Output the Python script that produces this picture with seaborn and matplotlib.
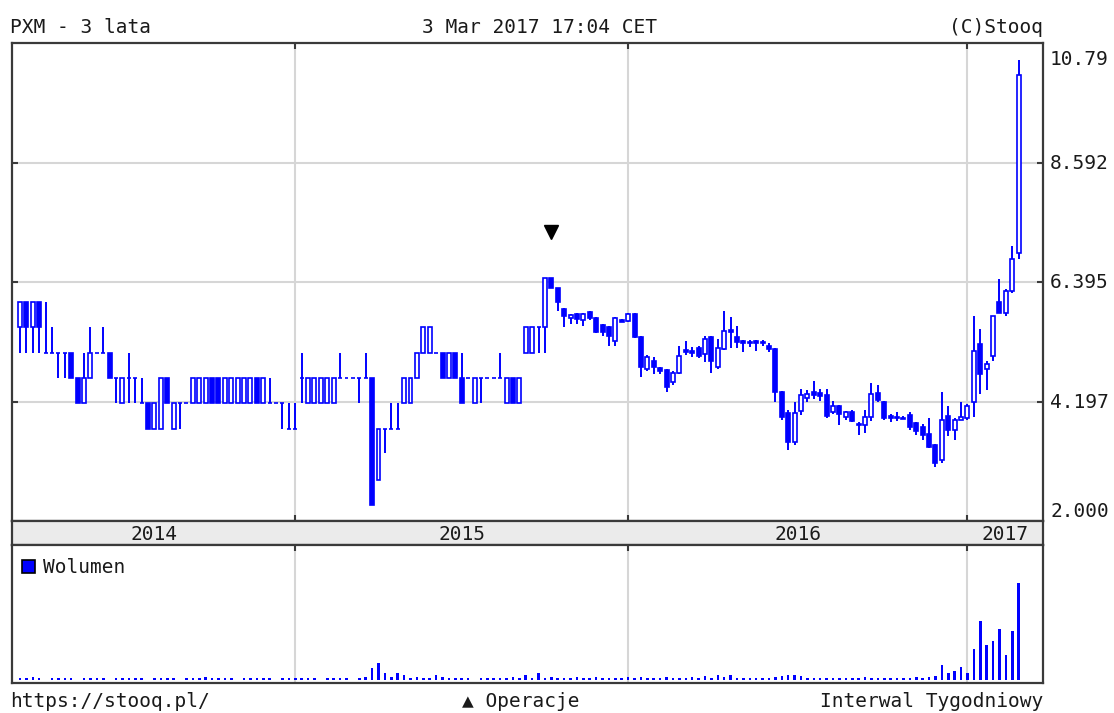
import numpy as np
import pandas as pd
import matplotlib
matplotlib.use("Agg")
import matplotlib.pyplot as plt
from matplotlib.patches import Rectangle
from matplotlib import transforms
import seaborn as sns

# weekly candles, Mar 2014 .. 3 Mar 2017 (one row per traded week)
open_ = [
    # 2014
    5.56, 6.03, 5.56, 6.03, 5.09, 5.09, 5.09, 5.09, 5.09, 4.63,
    4.17, 4.63, 5.09, 5.09, 5.09, 4.63, 4.17, 4.63, 4.63, 4.17,
    4.17, 3.70, 3.70, 4.63, 3.70, 4.17, 4.17, 4.17, 4.17, 4.17,
    4.63, 4.63, 4.17, 4.17, 4.17, 4.17, 4.17, 4.63, 4.17, 4.17,
    4.17, 4.17, 3.70,
    # 2015
    3.70, 4.63, 4.17, 4.17, 4.17, 4.17, 4.17, 4.63, 4.63, 4.63,
    4.63, 4.63, 4.63, 2.75, 3.70, 3.70, 3.70, 4.17, 4.17, 4.63,
    5.09, 5.09, 5.09, 5.09, 4.63, 5.09, 4.63, 4.63, 4.17, 4.63,
    4.63, 4.63, 4.63, 4.17, 4.63, 4.17, 5.09, 5.09, 5.56, 5.56,
    6.47, 6.29, 5.90, 5.73, 5.80, 5.70, 5.84, 5.74, 5.60, 5.56,
    5.31, 5.70,
    # 2016
    5.68, 5.80, 5.38, 4.80, 4.94, 4.82, 4.77, 4.55, 4.73, 5.15,
    5.13, 5.19, 5.08, 5.38, 4.83, 5.17, 5.52, 5.38, 5.31, 5.30,
    5.31, 5.30, 5.22, 5.17, 4.37, 3.98, 3.45, 4.03, 4.27, 4.38,
    4.36, 4.31, 4.00, 4.12, 3.91, 4.00, 3.76, 3.76, 3.91, 4.36,
    4.18, 3.94, 3.91, 3.90, 3.95, 3.80, 3.73, 3.60, 3.39, 3.12,
    3.94, 3.67, 3.86,
    # 2017
    3.89, 4.18, 5.25, 4.80, 5.04, 6.02, 5.83, 6.23, 6.93,
]
high_ = [
    6.03, 6.03, 6.03, 6.03, 6.03, 5.56, 5.09, 5.09, 5.09, 4.63,
    5.09, 5.56, 5.09, 5.56, 5.09, 4.63, 4.63, 5.09, 4.63, 4.63,
    4.17, 4.17, 4.63, 4.63, 4.17, 4.17, 4.17, 4.63, 4.63, 4.63,
    4.63, 4.63, 4.63, 4.63, 4.63, 4.63, 4.63, 4.63, 4.63, 4.63,
    4.17, 4.17, 4.17,
    4.17, 5.09, 4.63, 4.63, 4.63, 4.63, 4.63, 5.09, 4.63, 4.63,
    4.63, 5.09, 4.63, 3.70, 3.70, 4.17, 4.17, 4.63, 4.63, 5.09,
    5.56, 5.56, 5.09, 5.09, 5.09, 5.09, 5.09, 4.63, 4.63, 4.63,
    4.63, 4.63, 5.09, 4.63, 4.63, 4.63, 5.56, 5.56, 5.56, 6.47,
    6.47, 6.29, 5.92, 5.80, 5.82, 5.82, 5.86, 5.76, 5.62, 5.58,
    5.76, 5.72,
    5.82, 5.82, 5.40, 5.05, 5.01, 4.84, 4.79, 4.75, 5.22, 5.31,
    5.20, 5.22, 5.41, 5.40, 5.35, 5.86, 5.75, 5.59, 5.33, 5.32,
    5.33, 5.33, 5.27, 5.19, 4.39, 4.05, 4.18, 4.43, 4.40, 4.58,
    4.43, 4.43, 4.20, 4.14, 4.03, 4.05, 3.82, 4.05, 4.53, 4.50,
    4.20, 3.97, 4.00, 3.93, 4.00, 3.82, 3.78, 3.89, 3.41, 4.37,
    4.12, 3.90, 4.18,
    4.15, 5.77, 5.53, 4.95, 5.77, 6.45, 6.27, 7.06, 10.48,
]
low_ = [
    5.09, 5.09, 5.09, 5.09, 5.09, 5.09, 4.63, 4.63, 4.63, 4.17,
    4.17, 4.63, 5.09, 5.09, 4.63, 4.17, 4.17, 4.17, 4.17, 4.17,
    3.70, 3.70, 3.70, 4.17, 3.70, 3.70, 4.17, 4.17, 4.17, 4.17,
    4.17, 4.17, 4.17, 4.17, 4.17, 4.17, 4.17, 4.17, 4.17, 4.17,
    4.17, 3.70, 3.70,
    3.70, 4.17, 4.17, 4.17, 4.17, 4.17, 4.17, 4.63, 4.63, 4.63,
    4.17, 4.63, 2.29, 2.75, 3.25, 3.70, 3.70, 4.17, 4.17, 4.63,
    5.09, 5.09, 5.09, 4.63, 4.63, 4.63, 4.17, 4.63, 4.17, 4.17,
    4.63, 4.63, 4.63, 4.17, 4.17, 4.17, 5.09, 5.09, 5.09, 5.09,
    6.29, 5.86, 5.56, 5.62, 5.62, 5.58, 5.70, 5.45, 5.40, 5.22,
    5.22, 5.66,
    5.66, 5.36, 4.64, 4.75, 4.70, 4.70, 4.37, 4.50, 4.71, 5.06,
    5.02, 5.00, 4.93, 4.73, 4.80, 5.15, 5.19, 5.19, 5.10, 5.20,
    5.12, 5.22, 5.10, 4.18, 3.85, 3.30, 3.40, 3.95, 4.18, 4.24,
    4.20, 3.90, 3.97, 3.76, 3.85, 3.82, 3.58, 3.62, 3.84, 4.18,
    3.85, 3.82, 3.84, 3.87, 3.67, 3.59, 3.49, 3.34, 2.99, 3.06,
    3.56, 3.49, 3.85,
    3.85, 3.91, 4.34, 4.40, 4.95, 5.83, 5.77, 6.20, 6.82,
]
close_ = [
    6.03, 5.56, 6.03, 5.56, 5.09, 5.09, 5.09, 5.09, 4.63, 4.17,
    4.63, 5.09, 5.09, 5.09, 4.63, 4.63, 4.63, 4.63, 4.63, 4.17,
    3.70, 4.17, 4.63, 4.17, 4.17, 4.17, 4.17, 4.63, 4.63, 4.63,
    4.17, 4.17, 4.63, 4.63, 4.63, 4.63, 4.63, 4.17, 4.63, 4.17,
    4.17, 4.17, 3.70,
    3.70, 4.63, 4.63, 4.63, 4.63, 4.63, 4.63, 4.63, 4.63, 4.63,
    4.63, 4.63, 2.29, 3.70, 3.70, 3.70, 3.70, 4.63, 4.63, 5.09,
    5.56, 5.56, 5.09, 4.63, 5.09, 4.63, 4.17, 4.63, 4.63, 4.63,
    4.63, 4.63, 4.63, 4.63, 4.17, 4.63, 5.56, 5.56, 5.56, 6.47,
    6.29, 6.02, 5.77, 5.78, 5.72, 5.80, 5.74, 5.47, 5.47, 5.40,
    5.74, 5.66,
    5.80, 5.38, 4.83, 5.01, 4.83, 4.76, 4.46, 4.73, 5.04, 5.11,
    5.09, 5.04, 5.35, 4.95, 5.19, 5.50, 5.48, 5.29, 5.27, 5.27,
    5.27, 5.27, 5.17, 4.37, 3.91, 3.45, 3.98, 4.31, 4.34, 4.31,
    4.29, 3.94, 4.12, 3.96, 4.00, 3.84, 3.78, 3.91, 4.34, 4.22,
    3.89, 3.89, 3.89, 3.88, 3.73, 3.65, 3.58, 3.36, 3.06, 3.85,
    3.67, 3.85, 3.91,
    4.12, 5.13, 4.71, 4.89, 5.77, 5.83, 6.23, 6.82, 10.20,
]
# volume, thousand shares
volume = [
    2, 2, 3, 2, 0, 2, 2, 2, 2, 0, 2, 2, 2, 2, 0, 2, 2, 2, 2, 2,
    0, 2, 2, 2, 2, 0, 2, 2, 2, 3, 2, 2, 2, 2, 0, 2, 2, 2, 2, 2,
    0, 2, 2,
    2, 2, 2, 2, 0, 2, 2, 2, 2, 0, 2, 3, 12, 17, 7, 3, 7, 5, 2, 3,
    2, 2, 5, 3, 2, 2, 2, 2, 0, 2, 2, 2, 2, 2, 3, 2, 5, 2, 7, 2,
    3, 2, 2, 2, 3, 2, 2, 3, 2, 2, 2, 2,
    3, 2, 3, 2, 2, 2, 3, 2, 2, 2, 3, 2, 4, 2, 5, 3, 5, 2, 2, 2,
    2, 2, 2, 3, 4, 5, 5, 4, 2, 2, 2, 2, 2, 2, 2, 2, 2, 3, 2, 2,
    2, 2, 2, 2, 2, 3, 2, 3, 4, 15, 7, 9, 13,
    7, 31, 59, 35, 39, 51, 25, 49, 97,
]

years = ["2014", "2015", "2016", "2017"]
year_first_week = [0, 43, 95, 148]
price_ticks = [2.000, 4.197, 6.395, 8.592, 10.790]
signal_week = 83
signal_price = 7.31

BLUE = "#0000ff"
FRAME = "#3a3a3a"
GRID = "#d6d6d6"
TXT = "#1a1a1a"

df = pd.DataFrame({"open": open_, "high": high_, "low": low_,
                   "close": close_, "volume": volume})
df["week"] = np.arange(len(df))
n = len(df)

sns.set_theme(style="white")
plt.rcParams["font.family"] = ["DejaVu Sans Mono", "DejaVu Sans"]
plt.rcParams["font.size"] = 14

W, H = 1114, 713
fig = plt.figure(figsize=(W / 100, H / 100), dpi=100)
fig.patch.set_facecolor("white")


def box(l, t, r, b):
    return [l / W, 1 - b / H, (r - l) / W, (b - t) / H]


ax = fig.add_axes(box(12, 43, 1043, 521))
band = fig.add_axes(box(12, 521, 1043, 545))
axv = fig.add_axes(box(12, 545, 1043, 683))
xlim = (-1.25, n + 2.8)

# --- price candles
up = df.close >= df.open
bottom = df[["open", "close"]].min(axis=1)
height = (df.close - df.open).abs()
ax.vlines(df.week, df.low, df.high, color=BLUE, lw=1.4, zorder=2)
ax.bar(df.week[up], height[up], bottom=bottom[up], width=0.62,
       facecolor="white", edgecolor=BLUE, lw=1.2, zorder=3)
ax.bar(df.week[~up], height[~up], bottom=bottom[~up], width=0.62,
       facecolor=BLUE, edgecolor=BLUE, lw=1.2, zorder=3)
ax.plot([signal_week], [signal_price], marker="v", color="black", ms=9.5, zorder=4)

ax.set_xlim(*xlim)
ax.set_ylim(price_ticks[0], price_ticks[-1])
ax.set_yticks(price_ticks[1:-1])
ax.set_xticks(year_first_week[1:])
ax.set_axisbelow(True)
ax.grid(True, color=GRID, lw=1.5)
ax.tick_params(axis="both", which="both", direction="in", length=4, width=1.5,
               color=FRAME, left=True, right=True, top=True, bottom=True,
               labelleft=False, labelright=False, labeltop=False, labelbottom=False)

ytrans = transforms.blended_transform_factory(ax.transAxes, ax.transData)
for v in price_ticks:
    dy = -6.5
    if v == price_ticks[-1]:
        dy = -22
    elif v == price_ticks[0]:
        dy = 4
    ax.annotate(f"{v:.3f}"[:5], xy=(1, v), xycoords=ytrans, xytext=(7, dy),
                textcoords="offset pixels", ha="left", va="baseline",
                color=TXT, fontsize=14, annotation_clip=False)

# --- year band
band.set_facecolor("#ebebeb")
band.set_xlim(*xlim)
band.set_ylim(0, 1)
band.set_xticks([])
band.set_yticks([])
edges = [xlim[0]] + year_first_week[1:] + [xlim[1]]
for i, yr in enumerate(years):
    band.text((edges[i] + edges[i + 1]) / 2, 5 / 24, yr, ha="center",
              va="baseline", color=TXT, fontsize=14)

# --- volume
sns.barplot(data=df, x="week", y="volume", native_scale=True, width=0.4,
            color=BLUE, saturation=1, errorbar=None, linewidth=0, ax=axv)
axv.set_xlim(*xlim)
axv.set_ylim(-3, 135)
axv.set_xlabel("")
axv.set_ylabel("")
axv.set_yticks([])
axv.set_xticks(year_first_week[1:])
axv.set_axisbelow(True)
axv.grid(True, axis="x", color=GRID, lw=1.5)
axv.tick_params(axis="x", direction="in", length=4, width=1.5, color=FRAME,
                top=True, bottom=False, labelbottom=False, labeltop=False)
axv.add_patch(Rectangle((10 / 1031, 110 / 138), 13 / 1031, 13 / 138,
                        transform=axv.transAxes, facecolor=BLUE,
                        edgecolor="black", lw=1.2, zorder=5))
axv.text(31 / 1031, 110 / 138, "Wolumen", transform=axv.transAxes,
         ha="left", va="baseline", color=TXT, fontsize=14)

for a in (ax, band, axv):
    for s in a.spines.values():
        s.set_color(FRAME)
        s.set_linewidth(1.6)
        s.set_visible(True)

# --- header / footer
fig.text(10 / W, 1 - 33 / H, "PXM - 3 lata", ha="left", va="baseline", color=TXT)
fig.text(540 / W, 1 - 33 / H, "3 Mar 2017 17:04 CET", ha="center", va="baseline", color=TXT)
fig.text(1043 / W, 1 - 33 / H, "(C)Stooq", ha="right", va="baseline", color=TXT)
fig.text(10 / W, 1 - 707 / H, "https://stooq.pl/", ha="left", va="baseline", color=TXT)
fig.text(521 / W, 1 - 707 / H, "\u25b2 Operacje", ha="center", va="baseline", color=TXT)
fig.text(1043 / W, 1 - 707 / H, "Interwal Tygodniowy", ha="right", va="baseline", color=TXT)

fig.savefig("out.png", dpi=100, facecolor="white")
